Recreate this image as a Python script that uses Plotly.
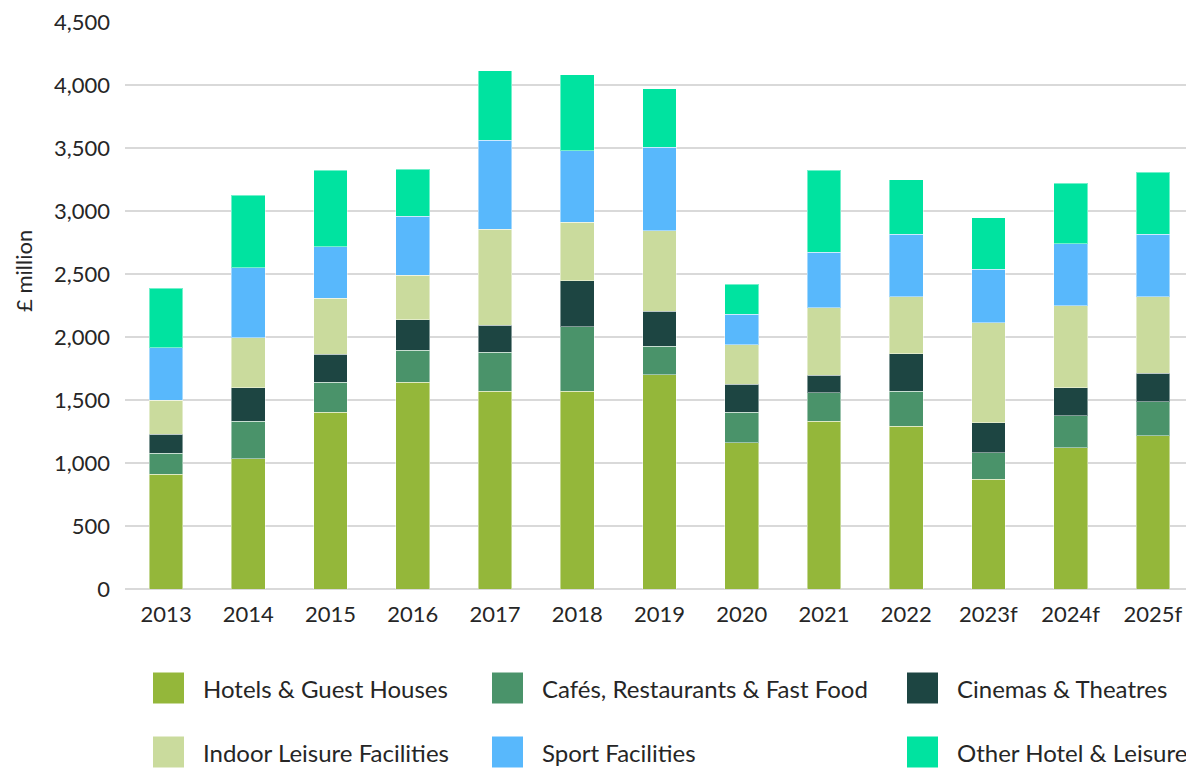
import plotly.graph_objects as go

years = ["2013", "2014", "2015", "2016", "2017", "2018", "2019", "2020", "2021", "2022", "2023f", "2024f", "2025f"]

hotels = [909, 1035, 1403, 1642, 1571, 1571, 1700, 1162, 1330, 1290, 870, 1122, 1218]
cafes = [167, 297, 239, 255, 310, 510, 225, 240, 226, 279, 210, 253, 269]
cinemas = [154, 266, 222, 239, 211, 365, 280, 223, 141, 298, 240, 221, 226]
indoor = [269, 398, 442, 354, 764, 467, 637, 314, 537, 452, 792, 651, 606]
sport = [415, 552, 410, 467, 705, 566, 664, 242, 439, 495, 426, 495, 495]
other = [475, 577, 606, 376, 552, 604, 464, 237, 649, 436, 407, 479, 492]

y_ticks = [0, 500, 1000, 1500, 2000, 2500, 3000, 3500, 4000, 4500]
y_tick_labels = ["0", "500", "1,000", "1,500", "2,000", "2,500", "3,000", "3,500", "4,000", "4,500"]

series_names = ["Hotels & Guest Houses", "Cafés, Restaurants & Fast Food", "Cinemas & Theatres",
                "Indoor Leisure Facilities", "Sport Facilities", "Other Hotel & Leisure"]
series_values = [hotels, cafes, cinemas, indoor, sport, other]
colors = ["#94B73A", "#4A936A", "#1D4542", "#CADB9D", "#58B8FC", "#00E3A0"]

FONT = "Lato"
TXT = "#262626"

fig = go.Figure()
for name, vals, col in zip(series_names, series_values, colors):
    fig.add_trace(go.Bar(
        x=years, y=vals, name=name, marker_color=col,
        marker_line=dict(width=1, color="rgba(255,255,255,0.45)"),
        showlegend=False,
    ))

# page offset (body margin) of the rendered html
OFF = 8
W, H = 1194 - OFF, 769 - OFF
# plot area in page pixels: x 125..1194, y 22..589
L, T = 125 - OFF, 22 - OFF
R = 0
B = H - (589 - OFF)
pw, ph = W - L - R, H - T - B

def px(x):
    return (x - OFF - L) / pw

def py(y):
    return ((589 - OFF) - (y - OFF)) / ph

# manual legend (3 columns x 2 rows)
legend_pos = [(153, 688), (492, 688), (907, 688), (153, 752), (492, 752), (907, 752)]
shapes = []
annotations = []
sq = 31
for (lx, ly), name, col in zip(legend_pos, series_names, colors):
    shapes.append(dict(type="rect", xref="paper", yref="paper",
                       x0=px(lx), x1=px(lx + sq), y0=py(ly + sq / 2), y1=py(ly - sq / 2),
                       fillcolor=col, line=dict(width=0)))
    annotations.append(dict(xref="paper", yref="paper", x=px(lx + 48), y=py(ly),
                            xanchor="left", yanchor="middle", text=name, showarrow=False,
                            font=dict(family=FONT, size=24, color=TXT)))

# y-axis title
annotations.append(dict(xref="paper", yref="paper", x=px(23), y=py(271), textangle=-90,
                        xanchor="center", yanchor="middle", text="£ million", showarrow=False,
                        font=dict(family=FONT, size=22, color=TXT)))

fig.update_layout(
    width=W, height=H,
    margin=dict(l=L, r=R, t=T, b=B),
    barmode="stack",
    bargap=0.59,
    plot_bgcolor="white", paper_bgcolor="white",
    font=dict(family=FONT, size=22, color=TXT),
    shapes=shapes,
    annotations=annotations,
    xaxis=dict(showgrid=False, showline=False, ticks="", ticklabelstandoff=10,
               ticklabeloverflow="allow",
               tickfont=dict(family=FONT, size=22, color=TXT)),
    yaxis=dict(range=[0, 4500.5], tickmode="array", tickvals=y_ticks, ticktext=y_tick_labels,
               gridcolor="#d9d9d9", gridwidth=2,
               zeroline=True, zerolinecolor="#d9d9d9", zerolinewidth=2,
               showline=False, ticks="", ticklabelstandoff=14,
               ticklabeloverflow="allow",
               tickfont=dict(family=FONT, size=22, color=TXT)),
)

fig.write_html("out.html")
